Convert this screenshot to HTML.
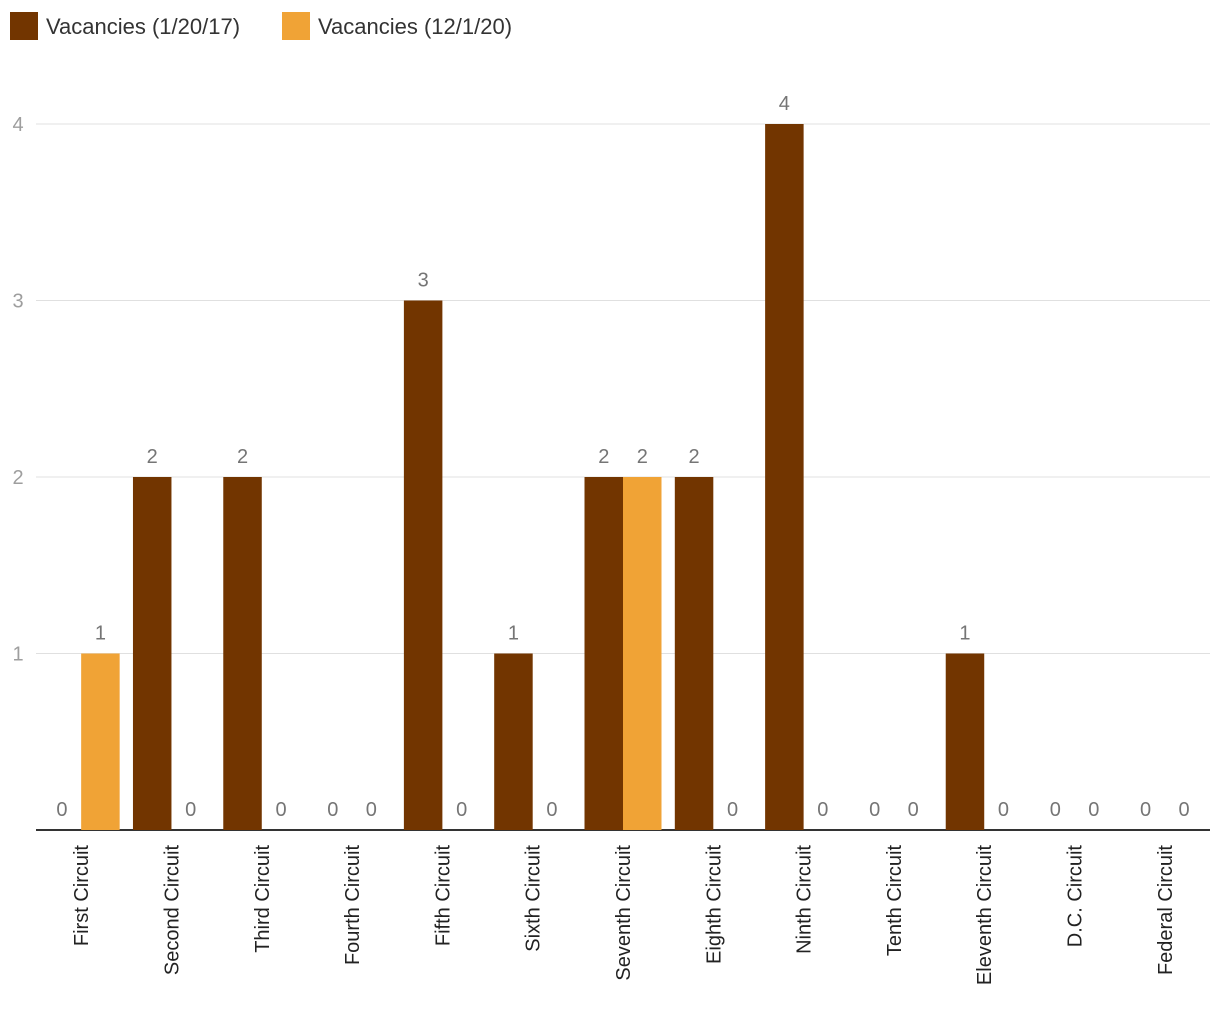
<!DOCTYPE html>
<html><head><meta charset="utf-8"><style>
body{margin:0;background:#fff;width:1220px;height:1020px;overflow:hidden;font-family:"Liberation Sans",sans-serif}
</style></head><body>
<svg id="chart" width="1220" height="1020" xmlns="http://www.w3.org/2000/svg">
<g>
<rect x="10" y="12" width="28" height="28" fill="#723500"/>
<text x="46" y="34" font-size="22" fill="#333">Vacancies (1/20/17)</text>
<rect x="282" y="12" width="28" height="28" fill="#f0a336"/>
<text x="318" y="34" font-size="22" fill="#333">Vacancies (12/1/20)</text>
</g>
<g id="grid"></g><g id="bars"></g><g id="labels"></g>
</svg>
<script>
const categories=["First Circuit","Second Circuit","Third Circuit","Fourth Circuit","Fifth Circuit","Sixth Circuit","Seventh Circuit","Eighth Circuit","Ninth Circuit","Tenth Circuit","Eleventh Circuit","D.C. Circuit","Federal Circuit"];
const series2017=[0,2,2,0,3,1,2,2,4,0,1,0,0];
const series2020=[1,0,0,0,0,0,2,0,0,0,0,0,0];
const yTicks=[1,2,3,4];
const NS="http://www.w3.org/2000/svg";
const x0=36,x1=1210,y0=830,unit=176.5,bw=38.5;
const gw=(x1-x0)/categories.length;
const yScale=v=>y0-v*unit;
const xCenter=i=>x0+gw*(i+0.5);
function mk(tag,attrs,parent){const e=document.createElementNS(NS,tag);for(const k in attrs)e.setAttribute(k,attrs[k]);parent.appendChild(e);return e;}
const grid=document.getElementById('grid'),bars=document.getElementById('bars'),labels=document.getElementById('labels');
yTicks.forEach(t=>{
 const l=mk('line',{x1:x0,x2:x1,y1:yScale(t),y2:yScale(t),stroke:'#e0e0e0','stroke-width':1},grid);
 
 
 const tx=mk('text',{x:18,y:yScale(t)+7,'font-size':20,fill:'#9e9e9e','text-anchor':'middle'},grid);
 tx.textContent=t;
 
 
});
const ax=mk('line',{x1:x0,x2:x1,y1:y0,y2:y0,stroke:'#333','stroke-width':2},grid);


categories.forEach((c,i)=>{
 const cx=xCenter(i);
 [[series2017[i],'#723500',cx-bw,'2017'],[series2020[i],'#f0a336',cx,'2020']].forEach(([v,col,bx,s])=>{
  if(v>0){const r=mk('rect',{x:bx,y:yScale(v),width:bw,height:v*unit,fill:col},bars);
   
   }
  const t=mk('text',{x:bx+bw/2,y:yScale(v)-14,'font-size':20,fill:'#757575','text-anchor':'middle'},labels);
  t.textContent=v;
  
  
 });
 const lt=mk('text',{transform:`translate(${cx+7},845) rotate(-90)`,'font-size':20,fill:'#222','text-anchor':'end'},labels);
 lt.textContent=c;
 
 
});
</script>
</body></html>
